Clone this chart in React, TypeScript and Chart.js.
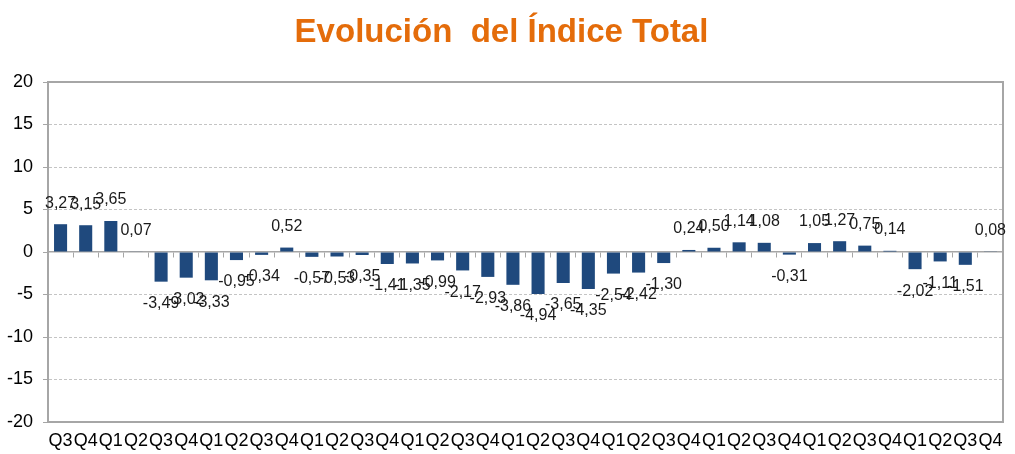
import React, { useEffect, useRef } from "react";
import { Chart, registerables } from "chart.js";

Chart.register(...registerables);

const TITLE = "Evolución  del Índice Total";

const CATEGORIES = [
  "Q3", "Q4",
  "Q1", "Q2", "Q3", "Q4",
  "Q1", "Q2", "Q3", "Q4",
  "Q1", "Q2", "Q3", "Q4",
  "Q1", "Q2", "Q3", "Q4",
  "Q1", "Q2", "Q3", "Q4",
  "Q1", "Q2", "Q3", "Q4",
  "Q1", "Q2", "Q3", "Q4",
  "Q1", "Q2", "Q3", "Q4",
  "Q1", "Q2", "Q3", "Q4",
];

const VALUES = [
  3.27, 3.15,
  3.65, 0.07, -3.49, -3.02,
  -3.33, -0.95, -0.34, 0.52,
  -0.57, -0.53, -0.35, -1.41,
  -1.35, -0.99, -2.17, -2.93,
  -3.86, -4.94, -3.65, -4.35,
  -2.54, -2.42, -1.30, 0.24,
  0.50, 1.14, 1.08, -0.31,
  1.05, 1.27, 0.75, 0.14,
  -2.02, -1.11, -1.51, 0.08,
];

const Y_MIN = -20;
const Y_MAX = 20;
const Y_STEP = 5;

const FONT = "'Liberation Sans', Arial, sans-serif";
const FRAME = "#a6a6a6";
const GRID = "#c4c4c4";
const BAR = "#1F497D";
const TITLE_COLOR = "#E46C0A";

const valueLabels = {
  id: "valueLabels",
  afterDatasetsDraw(chart: any) {
    const ctx = chart.ctx;
    const meta = chart.getDatasetMeta(0);
    const data = chart.data.datasets[0].data as number[];
    ctx.save();
    ctx.font = `16px ${FONT}`;
    ctx.fillStyle = "#1a1a1a";
    ctx.textAlign = "center";
    ctx.textBaseline = "middle";
    meta.data.forEach((el: any, i: number) => {
      const v = data[i];
      const txt = v.toFixed(2).replace(".", ",");
      const y = v >= 0 ? el.y - 21 : el.y + 22;
      ctx.fillText(txt, el.x, y);
    });
    ctx.restore();
  },
};

export default function App() {
  const ref = useRef<HTMLCanvasElement | null>(null);

  useEffect(() => {
    if (!ref.current) return;
    const chart = new Chart(ref.current, {
      type: "bar",
      data: {
        labels: CATEGORIES,
        datasets: [
          {
            data: VALUES,
            backgroundColor: BAR,
            borderWidth: 0,
            categoryPercentage: 1,
            barPercentage: 0.52,
            xAxisID: "x",
            yAxisID: "y",
          },
        ],
      },
      options: {
        animation: false,
        responsive: true,
        maintainAspectRatio: false,
        layout: { padding: { left: 0, right: 12, top: 0, bottom: 0 } },
        plugins: {
          legend: { display: false },
          tooltip: { enabled: false },
          title: {
            display: true,
            text: TITLE,
            color: TITLE_COLOR,
            font: { family: FONT, size: 33, weight: "bold" },
            padding: { top: 13, bottom: 29.4 },
          },
        },
        scales: {
          x: {
            type: "category",
            position: "bottom",
            offset: true,
            grid: { display: false, drawTicks: false, offset: true },
            border: { display: true, color: FRAME, width: 2 },
            ticks: {
              color: "#000",
              font: { family: FONT, size: 18 },
              padding: 8,
              autoSkip: false,
              maxRotation: 0,
              minRotation: 0,
            },
            afterFit: (s: any) => {
              s.height = 32;
            },
          },
          xTop: {
            type: "category",
            position: "top",
            offset: true,
            grid: { display: false, drawTicks: false },
            border: { display: true, color: FRAME, width: 2 },
            ticks: { display: false },
            afterFit: (s: any) => {
              s.height = 0;
            },
          },
          xZero: {
            type: "category",
            position: { y: 0 },
            offset: true,
            grid: {
              display: true,
              drawOnChartArea: false,
              drawTicks: true,
              tickLength: 5,
              offset: true,
              color: FRAME,
              tickColor: FRAME,
              tickWidth: 1,
            },
            border: { display: true, color: FRAME, width: 1.5 },
            ticks: { display: false },
          },
          y: {
            type: "linear",
            position: "left",
            min: Y_MIN,
            max: Y_MAX,
            ticks: {
              stepSize: Y_STEP,
              color: "#000",
              font: { family: FONT, size: 18 },
              padding: 10,
            },
            grid: {
              color: (c: any) =>
                c.tick && (c.tick.value === 0 || c.tick.value === Y_MAX || c.tick.value === Y_MIN)
                  ? "rgba(0,0,0,0)"
                  : GRID,
              tickColor: FRAME,
              tickLength: 5,
              lineWidth: 1,
            },
            border: { display: true, color: FRAME, width: 2, dash: [3, 2] },
            afterFit: (s: any) => {
              s.width = 48;
            },
          },
          yRight: {
            type: "linear",
            position: "right",
            min: Y_MIN,
            max: Y_MAX,
            grid: { display: false, drawTicks: false },
            border: { display: true, color: FRAME, width: 2 },
            ticks: { display: false },
            afterFit: (s: any) => {
              s.width = 0;
            },
          },
        },
      },
      plugins: [valueLabels],
    } as any);
    return () => chart.destroy();
  }, []);

  return (
    <div style={{ position: "absolute", left: 0, top: 0, width: 1015, height: 454 }}>
      <canvas ref={ref} />
    </div>
  );
}
